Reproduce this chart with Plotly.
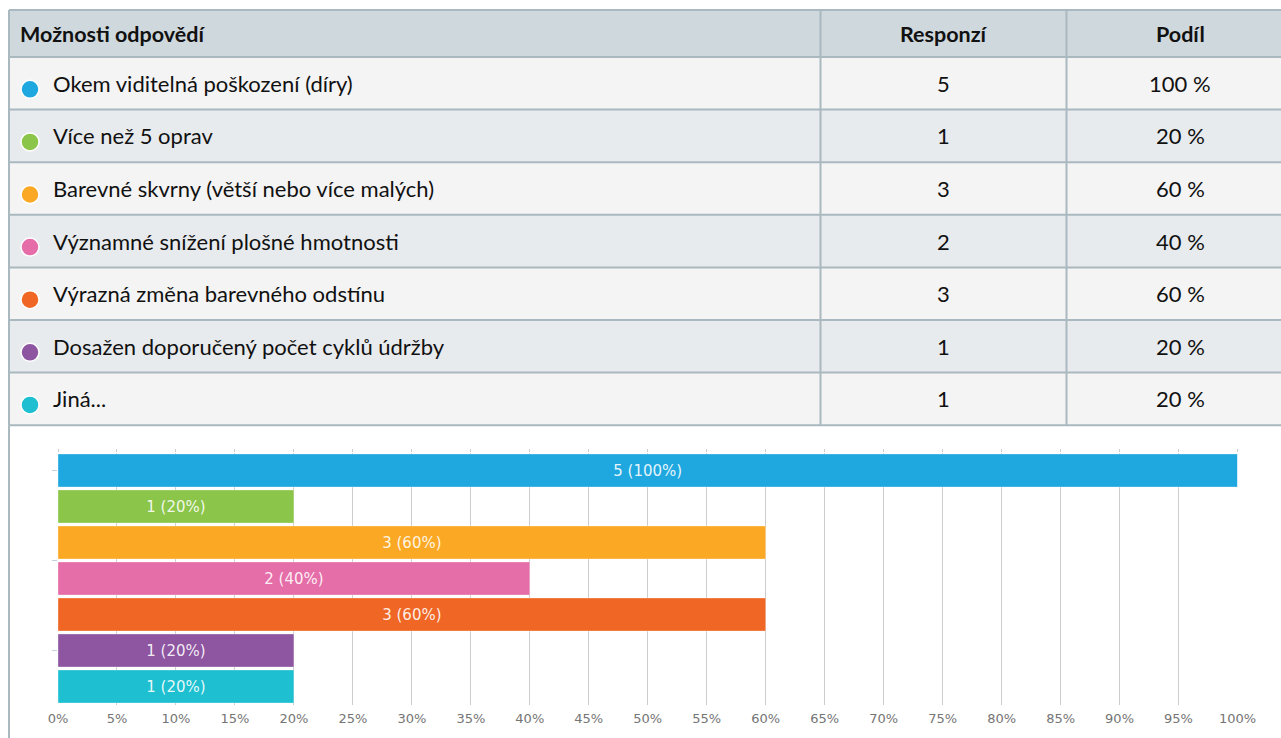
import plotly.graph_objects as go

# ---------------- data ----------------
categories = [
    "Okem viditelná poškození (díry)",
    "Více než 5 oprav",
    "Barevné skvrny (větší nebo více malých)",
    "Významné snížení plošné hmotnosti",
    "Výrazná změna barevného odstínu",
    "Dosažen doporučený počet cyklů údržby",
    "Jiná...",
]
responses = [5, 1, 3, 2, 3, 1, 1]
shares = [100, 20, 60, 40, 60, 20, 20]
share_labels = ["100 %", "20 %", "60 %", "40 %", "60 %", "20 %", "20 %"]
colors = ["#1fa8e0", "#8bc54a", "#fba924", "#e56da8", "#f06624", "#8e55a1", "#1dbfd0"]
headers = ["Možnosti odpovědí", "Responzí", "Podíl"]
x_ticks = [0, 5, 10, 15, 20, 25, 30, 35, 40, 45, 50, 55, 60, 65, 70, 75, 80, 85, 90, 95, 100]
x_tick_labels = [f"{t}%" for t in x_ticks]

# ---------------- layout constants (pixels) ----------------
W, H = 1281, 738
TABLE_LEFT, TABLE_TOP = 9, 10
HEADER_H = 47
ROW_H = 52.6
COL_X = [TABLE_LEFT, 820.5, 1066.5, W + 20]
BORDER = "#aab8bf"
HEADER_FILL = "#cfd8dc"
ROW_FILLS = ["#f4f4f4", "#e8ebed"]
TABLE_FONT = "Lato"

PLOT_LEFT, PLOT_RIGHT = 58, 1237.5
PLOT_TOP, PLOT_BOTTOM = 452.5, 704.5

n = len(categories)

fig = go.Figure()

fig.add_trace(go.Bar(
    x=shares,
    y=list(range(n)),
    orientation="h",
    marker=dict(color=colors, line=dict(color="rgba(255,255,255,0.35)", width=1)),
    text=[f"{r} ({s}%)" for r, s in zip(responses, shares)],
    textposition="inside",
    insidetextanchor="middle",
    textangle=0,
    textfont=dict(family="DejaVu Sans", size=15, color="rgba(255,255,255,0.9)"),
    hoverinfo="skip",
    showlegend=False,
    cliponaxis=False,
))
# dummy trace so the top tick-stub axis is drawn
fig.add_trace(go.Scatter(x=[0], y=[0], xaxis="x2", yaxis="y", mode="markers",
                         marker=dict(opacity=0), hoverinfo="skip", showlegend=False))

shapes = []
annotations = []

def px_shape(**kw):
    d = dict(xref="x3", yref="y3")
    d.update(kw)
    shapes.append(d)

# header
px_shape(type="rect", x0=COL_X[0], x1=COL_X[-1], y0=TABLE_TOP, y1=TABLE_TOP + HEADER_H,
         fillcolor=HEADER_FILL, line=dict(width=0))
# rows
for i in range(n):
    y0 = TABLE_TOP + HEADER_H + i * ROW_H
    px_shape(type="rect", x0=COL_X[0], x1=COL_X[-1], y0=y0, y1=y0 + ROW_H,
             fillcolor=ROW_FILLS[i % 2], line=dict(width=0))
table_bottom = TABLE_TOP + HEADER_H + n * ROW_H
# horizontal lines
for yy in [TABLE_TOP] + [TABLE_TOP + HEADER_H + i * ROW_H for i in range(n + 1)]:
    px_shape(type="line", x0=COL_X[0], x1=COL_X[-1], y0=yy, y1=yy,
             line=dict(color=BORDER, width=2))
# vertical lines
for xx in COL_X[:3]:
    px_shape(type="line", x0=xx, x1=xx, y0=TABLE_TOP, y1=table_bottom,
             line=dict(color=BORDER, width=2))
# chart container left border
px_shape(type="line", x0=TABLE_LEFT, x1=TABLE_LEFT, y0=table_bottom, y1=H + 5,
         line=dict(color=BORDER, width=2))

HFONT = dict(family=TABLE_FONT, size=21.5, color="#111")
RFONT = dict(family=TABLE_FONT, size=22, color="#111")

# header text
hy = TABLE_TOP + HEADER_H / 2
annotations.append(dict(xref="x3", yref="y3", x=18, y=hy, text=f"<b>{headers[0]}</b>",
                        xanchor="left", yanchor="middle", showarrow=False, font=HFONT))
annotations.append(dict(xref="x3", yref="y3", x=(COL_X[1] + COL_X[2]) / 2, y=hy,
                        text=f"<b>{headers[1]}</b>", xanchor="center", yanchor="middle",
                        showarrow=False, font=HFONT))
annotations.append(dict(xref="x3", yref="y3", x=1180, y=hy,
                        text=f"<b>{headers[2]}</b>", xanchor="center", yanchor="middle",
                        showarrow=False, font=HFONT))

for i in range(n):
    cy = TABLE_TOP + HEADER_H + i * ROW_H + ROW_H / 2
    px_shape(type="circle", x0=30 - 9, x1=30 + 9, y0=cy + 6 - 9, y1=cy + 6 + 9,
             fillcolor=colors[i], line=dict(color="white", width=1.5))
    annotations.append(dict(xref="x3", yref="y3", x=51, y=cy, text=categories[i],
                            xanchor="left", yanchor="middle", showarrow=False, font=RFONT))
    annotations.append(dict(xref="x3", yref="y3", x=(COL_X[1] + COL_X[2]) / 2, y=cy,
                            text=str(responses[i]), xanchor="center", yanchor="middle",
                            showarrow=False, font=RFONT))
    annotations.append(dict(xref="x3", yref="y3", x=1180, y=cy, text=share_labels[i],
                            xanchor="center", yanchor="middle", showarrow=False, font=RFONT))

fig.update_layout(
    template="none",
    width=W, height=H,
    autosize=False,
    margin=dict(l=0, r=0, t=0, b=0, pad=0, autoexpand=False),
    paper_bgcolor="white",
    plot_bgcolor="rgba(0,0,0,0)",
    bargap=0.08,
    showlegend=False,
    xaxis=dict(
        domain=[PLOT_LEFT / W, PLOT_RIGHT / W],
        range=[0, 100], anchor="y", automargin=False,
        tickvals=x_ticks, ticktext=x_tick_labels,
        showgrid=True, gridcolor="#cccccc", gridwidth=1,
        zeroline=False, showline=False, ticks="",
        tickfont=dict(family="DejaVu Sans", size=13, color="#757575"),
        ticklabelstandoff=4,
        fixedrange=True,
    ),
    xaxis2=dict(
        overlaying="x", side="top", anchor="y", automargin=False,
        range=[0, 100], tickvals=x_ticks, showticklabels=False,
        ticks="outside", ticklen=3, tickcolor="#cccccc", tickwidth=1,
        showgrid=False, zeroline=False, showline=False, fixedrange=True,
    ),
    yaxis=dict(
        domain=[1 - PLOT_BOTTOM / H, 1 - PLOT_TOP / H],
        range=[n - 0.5, -0.5], anchor="x", automargin=False,
        tickvals=[0, 2.5, 5], ticktext=["", "", ""],
        ticks="outside", ticklen=5, tickcolor="#c5d0e0", tickwidth=1,
        showgrid=False, zeroline=False, showline=False, fixedrange=True,
    ),
    xaxis3=dict(domain=[0, 1], range=[0, W], anchor="y3", visible=False,
                automargin=False, fixedrange=True),
    yaxis3=dict(domain=[0, 1], range=[H, 0], anchor="x3", visible=False,
                automargin=False, fixedrange=True),
    shapes=shapes,
    annotations=annotations,
)

fig.write_html(
    "out.html",
    config={"displayModeBar": False, "responsive": False},
    post_script="document.body.style.margin='0';document.body.style.overflow='hidden';",
)
